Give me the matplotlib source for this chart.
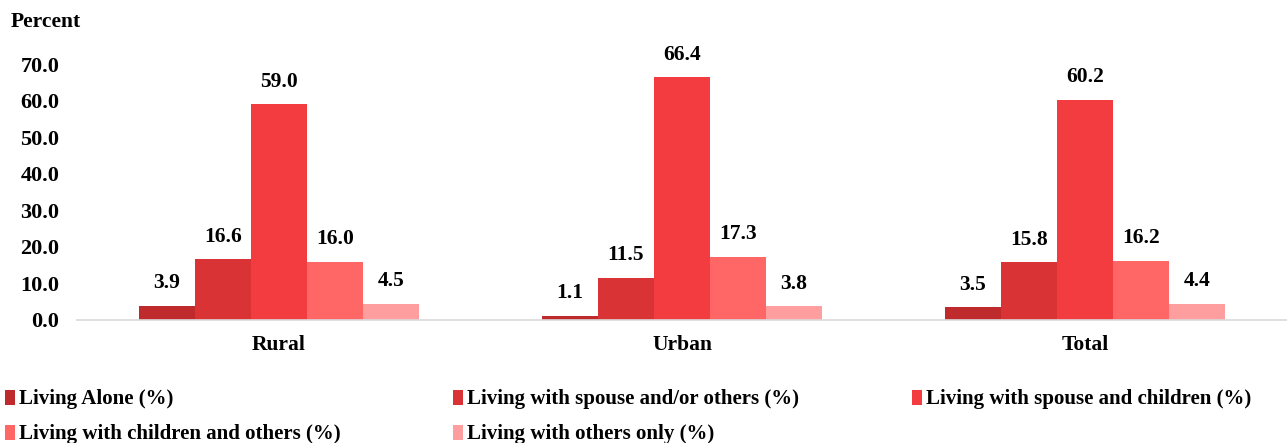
import numpy as np
import matplotlib.pyplot as plt

plt.rcParams['font.family'] = ['Liberation Serif', 'DejaVu Serif']
plt.rcParams['font.weight'] = 'bold'

# data
groups = ["Rural", "Urban", "Total"]
series = ["Living Alone (%)",
          "Living with spouse and/or others (%)",
          "Living with spouse and children (%)",
          "Living with children and others (%)",
          "Living with others only (%)"]
alone = [3.9, 1.1, 3.5]
spouse_others = [16.6, 11.5, 15.8]
spouse_children = [59.0, 66.4, 60.2]
children_others = [16.0, 17.3, 16.2]
others_only = [4.5, 3.8, 4.4]
colors = ["#BF2A2D", "#D93336", "#F23C3F", "#FF6666", "#FF9E9E"]

values = [alone, spouse_others, spouse_children, children_others, others_only]

fig = plt.figure(figsize=(12.87, 4.43), dpi=100)
ax = fig.add_axes([0.0602, 0.2777, 0.9394, 0.66])

x = np.arange(len(groups))
w = 0.139
handles = []
for i, (vals, lab, col) in enumerate(zip(values, series, colors)):
    bars = ax.bar(x + (i - 2) * w, vals, w, color=col, label=lab)
    ax.bar_label(bars, fmt='%.1f', padding=9, fontsize=15.5, fontweight='bold')
    handles.append(bars)

ax.set_xlim(-0.5, 2.5)
ax.set_ylim(0, 80)
ax.set_yticks(np.arange(0, 71, 10))
ax.set_yticklabels([f"{v:.1f}" for v in np.arange(0, 71, 10)])
ax.set_xticks(x)
ax.set_xticklabels(groups)
ax.tick_params(axis='y', length=0, pad=13, labelsize=16)
ax.tick_params(axis='x', length=0, pad=11, labelsize=15.5)
for s in ['top', 'right', 'left']:
    ax.spines[s].set_visible(False)
ax.spines['bottom'].set_color('#D9D9D9')
ax.spines['bottom'].set_linewidth(1.2)

fig.text(0.008, 0.94, "Percent", fontsize=15.5, fontweight='bold')

# legend, row-first order like the original
order = [0, 3, 1, 4, 2]
fig.legend([handles[i] for i in order], [series[i] for i in order],
           loc='upper left', bbox_to_anchor=(0.004, 0.0, 0.968, 0.121),
           mode='expand', ncol=3, frameon=False, fontsize=15,
           handlelength=0.45, handleheight=0.75, handletextpad=0.2,
           borderaxespad=0, borderpad=0, labelspacing=0.72)

fig.savefig("out.png", dpi=100)
